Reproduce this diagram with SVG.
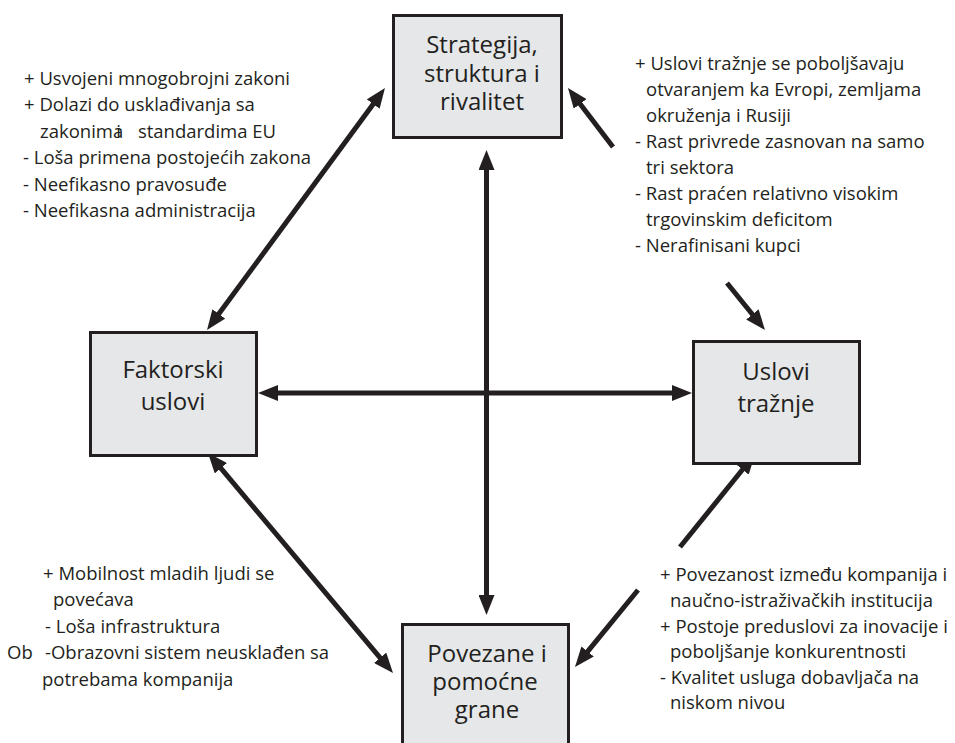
<svg xmlns="http://www.w3.org/2000/svg" width="955" height="743" viewBox="0 0 955 743">
  <style>
    .box { fill: #e6e7e8; stroke: #231f20; stroke-width: 3; }
    .label { font-family: "Open Sans", "Noto Sans", "Liberation Sans", sans-serif; font-size: 24px; fill: #231f20; text-anchor: middle; }
    .note { font-family: "Open Sans", "Noto Sans", "Liberation Sans", sans-serif; font-size: 18.5px; fill: #231f20; }
    .link { stroke: #231f20; stroke-width: 5; fill: none; }
  </style>
  <defs>
    <marker id="head" viewBox="0 0 20 16" markerUnits="userSpaceOnUse" markerWidth="20" markerHeight="16" refX="4" refY="8" orient="auto-start-reverse">
      <path d="M0,0 L20,8 L0,16 z" fill="#231f20"/>
    </marker>
  </defs>
  <rect width="955" height="743" fill="#ffffff"/>

  <!-- connectors -->
  <g id="connectors">
    <line class="link" x1="216.5" y1="317.1" x2="375.5" y2="100.9" marker-start="url(#head)" marker-end="url(#head)"/>
    <line class="link" x1="613" y1="147" x2="577.7" y2="100.7" marker-end="url(#head)"/>
    <line class="link" x1="727" y1="283" x2="754.9" y2="317.5" marker-end="url(#head)"/>
    <line class="link" x1="274" y1="393" x2="676" y2="393" marker-start="url(#head)" marker-end="url(#head)"/>
    <line class="link" x1="486.5" y1="166" x2="486.5" y2="599" marker-start="url(#head)" marker-end="url(#head)"/>
    <line class="link" x1="218.3" y1="465.2" x2="382.7" y2="660.8" marker-start="url(#head)" marker-end="url(#head)"/>
    <line class="link" x1="680" y1="547" x2="745" y2="466.5" marker-end="url(#head)"/>
    <line class="link" x1="638" y1="590" x2="585.1" y2="654.6" marker-end="url(#head)"/>
  </g>

  <!-- nodes -->
  <g id="strategija">
    <rect class="box" x="393.5" y="15.5" width="168" height="122"/>
    <text class="label" x="482" y="53">Strategija,</text>
    <text class="label" x="482" y="82">struktura i</text>
    <text class="label" x="482" y="110">rivalitet</text>
  </g>
  <g id="faktorski">
    <rect class="box" x="90.5" y="332.5" width="166" height="123"/>
    <text class="label" x="173" y="378">Faktorski</text>
    <text class="label" x="173" y="410">uslovi</text>
  </g>
  <g id="uslovi">
    <rect class="box" x="693.5" y="341.5" width="166" height="122"/>
    <text class="label" x="776" y="380">Uslovi</text>
    <text class="label" x="776" y="412">tražnje</text>
  </g>
  <g id="povezane">
    <rect class="box" x="402.5" y="624.5" width="166" height="130"/>
    <text class="label" x="487" y="662">Povezane i</text>
    <text class="label" x="485" y="690">pomoćne</text>
    <text class="label" x="487" y="718">grane</text>
  </g>

  <!-- annotations -->
  <g id="notes-factors" class="note">
    <text x="24" y="85">+ Usvojeni mnogobrojni zakoni</text>
    <text x="24" y="111">+ Dolazi do usklađivanja sa</text>
    <text x="40" y="138">zakonima<tspan dx="-7">i</tspan><tspan dx="17">standardima EU</tspan></text>
    <text x="23" y="164">- Loša primena postojećih zakona</text>
    <text x="23" y="191">- Neefikasno pravosuđe</text>
    <text x="23" y="217">- Neefikasna administracija</text>
  </g>
  <g id="notes-demand" class="note">
    <text x="635" y="70">+ Uslovi tražnje se poboljšavaju</text>
    <text x="646" y="96">otvaranjem ka Evropi, zemljama</text>
    <text x="646" y="122">okruženja i Rusiji</text>
    <text x="635" y="148">- Rast privrede zasnovan na samo</text>
    <text x="646" y="174">tri sektora</text>
    <text x="635" y="200">- Rast praćen relativno visokim</text>
    <text x="646" y="226">trgovinskim deficitom</text>
    <text x="635" y="252">- Nerafinisani kupci</text>
  </g>
  <g id="notes-related-left" class="note">
    <text x="43" y="580">+ Mobilnost mladih ljudi se</text>
    <text x="53" y="606">povećava</text>
    <text x="45" y="633">- Loša infrastruktura</text>
    <text x="7" y="659">Ob<tspan x="45">-Obrazovni sistem neusklađen sa</tspan></text>
    <text x="42" y="686">potrebama kompanija</text>
  </g>
  <g id="notes-related-right" class="note">
    <text x="660" y="581">+ Povezanost između kompanija i</text>
    <text x="670" y="607">naučno-istraživačkih institucija</text>
    <text x="660" y="633">+ Postoje preduslovi za inovacije i</text>
    <text x="670" y="658">poboljšanje konkurentnosti</text>
    <text x="660" y="684">- Kvalitet usluga dobavljača na</text>
    <text x="670" y="709">niskom nivou</text>
  </g>
</svg>
